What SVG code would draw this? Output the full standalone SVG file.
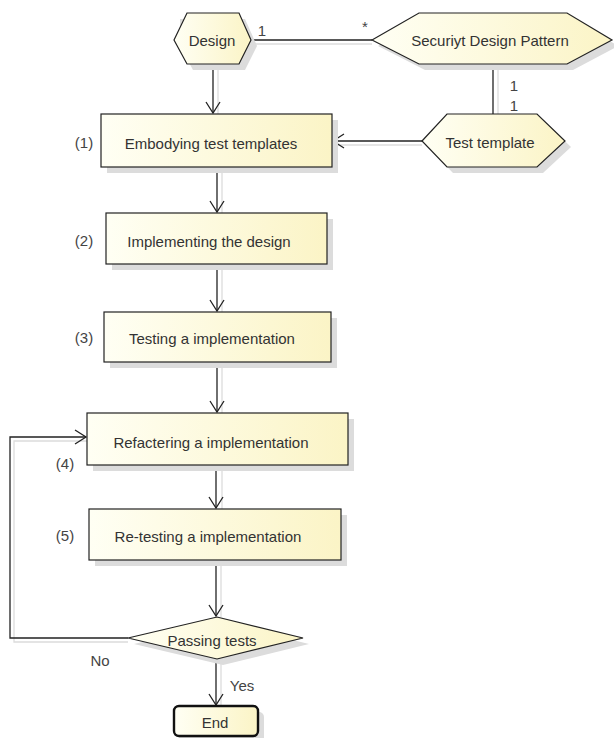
<svg xmlns="http://www.w3.org/2000/svg" width="614" height="738" viewBox="0 0 614 738">
<defs>
<linearGradient id="g" x1="0" y1="0" x2="1" y2="0">
<stop offset="0" stop-color="#fffff4"/>
<stop offset="1" stop-color="#fbf4c6"/>
</linearGradient>
<marker id="ah" markerWidth="14" markerHeight="16" refX="12" refY="8" orient="auto" markerUnits="userSpaceOnUse">
<path d="M1,1 L12,8 L1,15" fill="none" stroke="#222" stroke-width="1.3"/>
</marker>
</defs>
<style>
.n{fill:url(#g);stroke:#222;stroke-width:1.2}
.sh{fill:#dcdcdc;stroke:none}
.t{font-family:"Liberation Sans",Arial,sans-serif;font-size:15px;fill:#333;text-anchor:middle;dominant-baseline:central}
.l{font-family:"Liberation Sans",Arial,sans-serif;font-size:15px;fill:#444;text-anchor:middle;dominant-baseline:central}
.c{fill:none;stroke:#222;stroke-width:1.3}
.cs{fill:none;stroke:#dcdcdc;stroke-width:1.3}
</style>
<rect width="614" height="738" fill="#fff"/>
<g id="connectors">
<g id="shadows">
<path class="cs" d="M218,64 V114"/>
<path class="cs" d="M498,64 V118"/>
<path class="cs" d="M251,44 H372"/>
<path class="cs" d="M422,145 H336"/>
<path class="cs" d="M222,167 V213"/>
<path class="cs" d="M222,264 V312"/>
<path class="cs" d="M222,362 V413"/>
<path class="cs" d="M222,465 V509"/>
<path class="cs" d="M221,560 V617"/>
<path class="cs" d="M221,659 V706"/>
<path class="cs" d="M128,642 H14 V441 H87"/>
</g>
<path class="c" d="M251,40 H372"/>
<path class="c" d="M493,64 V114"/>
<path class="c" d="M213,64 V113" marker-end="url(#ah)"/>
<path class="c" d="M422,141 H333" marker-end="url(#ah)"/>
<path class="c" d="M217,167 V212" marker-end="url(#ah)"/>
<path class="c" d="M217,264 V311" marker-end="url(#ah)"/>
<path class="c" d="M217,362 V412" marker-end="url(#ah)"/>
<path class="c" d="M216,465 V508" marker-end="url(#ah)"/>
<path class="c" d="M216,560 V616" marker-end="url(#ah)"/>
<path class="c" d="M216,659 V705" marker-end="url(#ah)"/>
<path class="c" d="M128,638 H10 V437 H86" marker-end="url(#ah)"/>
<text class="l" x="262" y="30">1</text>
<text class="l" x="365" y="26">*</text>
<text class="l" x="514" y="85">1</text>
<text class="l" x="514" y="105">1</text>
<text class="l" x="100" y="660">No</text>
<text class="l" x="242" y="685">Yes</text>
</g>
<g id="design">
<polygon class="sh" points="180,19 193,19 245,19 257,46 245,70 193,70 180,46"/>
<polygon class="n" points="174,40 187,13 239,13 251,40 239,64 187,64"/>
<text class="t" x="212" y="40">Design</text>
</g>
<g id="pattern">
<polygon class="sh" points="378,46 425,19 573,19 618,46 573,70 425,70"/>
<polygon class="n" points="372,40 419,13 567,13 612,40 567,64 419,64"/>
<text class="t" x="490" y="40">Securiyt Design Pattern</text>
</g>
<g id="template">
<polygon class="sh" points="428,147 453,120 543,120 571,147 543,173 453,173"/>
<polygon class="n" points="422,141 447,114 537,114 565,141 537,167 447,167"/>
<text class="t" x="490" y="142">Test template</text>
</g>
<g id="step1">
<rect class="sh" x="107" y="120" width="231" height="53"/>
<rect class="n" x="101" y="114" width="231" height="53"/>
<text class="t" x="211" y="143">Embodying test templates</text>
<text class="l" x="84" y="142">(1)</text>
</g>
<g id="step2">
<rect class="sh" x="112" y="219" width="221" height="51"/>
<rect class="n" x="106" y="213" width="221" height="51"/>
<text class="t" x="209" y="241">Implementing the design</text>
<text class="l" x="84" y="240">(2)</text>
</g>
<g id="step3">
<rect class="sh" x="110" y="318" width="227" height="50"/>
<rect class="n" x="104" y="312" width="227" height="50"/>
<text class="t" x="212" y="338">Testing a implementation</text>
<text class="l" x="84" y="337">(3)</text>
</g>
<g id="step4">
<rect class="sh" x="93" y="419" width="261" height="52"/>
<rect class="n" x="87" y="413" width="261" height="52"/>
<text class="t" x="211" y="442">Refactering a implementation</text>
<text class="l" x="65" y="463">(4)</text>
</g>
<g id="step5">
<rect class="sh" x="95" y="515" width="252" height="51"/>
<rect class="n" x="89" y="509" width="252" height="51"/>
<text class="t" x="208" y="536">Re-testing a implementation</text>
<text class="l" x="65" y="535">(5)</text>
</g>
<g id="decision">
<polygon class="sh" points="134,644 223,623 309,644 223,665"/>
<polygon class="n" points="128,638 217,617 303,638 217,659"/>
<text class="t" x="212" y="640">Passing tests</text>
</g>
<g id="end">
<rect class="sh" x="179" y="712" width="85" height="31" rx="5"/>
<rect x="174" y="706" width="84" height="30" rx="5" fill="url(#g)" stroke="#111" stroke-width="2.4"/>
<text class="t" x="215" y="722">End</text>
</g>
</svg>
